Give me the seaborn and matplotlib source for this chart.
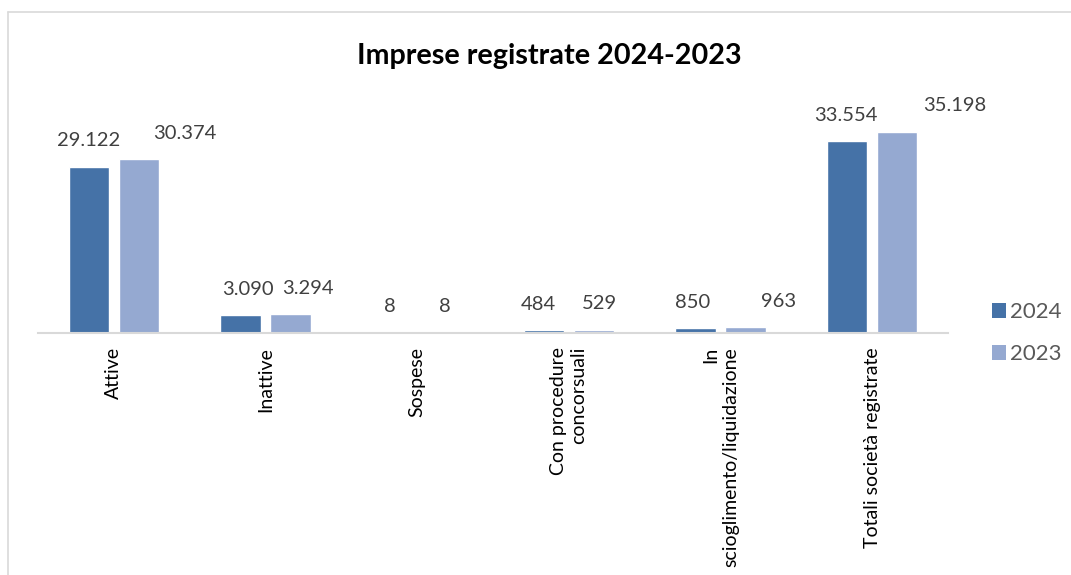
import matplotlib
matplotlib.use("Agg")
import matplotlib.pyplot as plt
from matplotlib.lines import Line2D
from matplotlib.patches import Patch
import seaborn as sns
import pandas as pd

# ---- data ----
categories = ["Attive", "Inattive", "Sospese", "Con procedure\nconcorsuali",
              "In\nscioglimento/liquidazione", "Totali società registrate"]
years = ["2024", "2023"]
values_2024 = [29122, 3090, 8, 484, 850, 33554]
values_2023 = [30374, 3294, 8, 529, 963, 35198]

# label x-offsets (pixels) reproducing the manual placement of the original
label_dx_2024 = [0, 7, -2, -5, -3, -1]
label_dx_2023 = [46, 17, 3, 6, 33, 58]

colors = {"2024": "#4572A7", "2023": "#95A9D1"}

df = pd.DataFrame({
    "categoria": categories * 2,
    "anno": ["2024"] * len(categories) + ["2023"] * len(categories),
    "valore": values_2024 + values_2023,
})

sns.set_theme(style="white")
plt.rcParams["font.family"] = ["Lato", "DejaVu Sans"]

W, H = 1071, 575
fig = plt.figure(figsize=(W / 100, H / 100), dpi=100)
ax = fig.add_axes([38 / W, 1 - 333 / H, (948 - 38) / W, (333 - 93) / H])

sns.barplot(data=df, x="categoria", y="valore", hue="anno", hue_order=years,
            order=categories, palette=colors, width=0.66, gap=0.19,
            saturation=1, ax=ax, legend=False)

ax.set_ylim(0, 42000)
ax.set_xlim(-0.5, len(categories) - 0.5)
ax.set_xlabel("")
ax.set_ylabel("")
ax.set_yticks([])
for s in ["top", "right", "left"]:
    ax.spines[s].set_visible(False)
ax.spines["bottom"].set_color("#D9D9D9")
ax.spines["bottom"].set_linewidth(1.5)
ax.tick_params(axis="x", length=0, pad=10)
for lbl in ax.get_xticklabels():
    lbl.set_rotation(90)
    lbl.set_ha("center")
    lbl.set_va("top")
    lbl.set_multialignment("right")
    lbl.set_fontsize(14)
    lbl.set_color("#000000")

# value labels
for cont, vals, dxs in zip(ax.containers, [values_2024, values_2023],
                           [label_dx_2024, label_dx_2023]):
    for bar, v, dx in zip(cont, vals, dxs):
        x = bar.get_x() + bar.get_width() / 2
        ax.annotate(f"{v:,}".replace(",", "."), (x, bar.get_height()),
                    xytext=(dx, 26), textcoords="offset pixels",
                    ha="center", va="center", fontsize=14.5, color="#404040")

# legend
handles = [Patch(facecolor=colors[y], edgecolor="none") for y in years]
fig.legend(handles, years, loc="center left",
           bbox_to_anchor=(972 / W, 1 - 333 / H), frameon=False,
           fontsize=16, labelcolor="#595959", handlelength=0.65,
           handleheight=0.65, handletextpad=0.15, labelspacing=1.0)

# title
fig.text(549 / W, 1 - 56 / H, "Imprese registrate 2024-2023", ha="center",
         va="center", fontsize=20.7, fontweight="bold", color="#000000")

# chart frame
fig.add_artist(Line2D([8 / W, 8 / W], [0, 1 - 12 / H], transform=fig.transFigure,
                      color="#D9D9D9", lw=1.2))
fig.add_artist(Line2D([8 / W, 1], [1 - 12 / H, 1 - 12 / H], transform=fig.transFigure,
                      color="#D9D9D9", lw=1.2))

fig.savefig("out.png", dpi=100)
